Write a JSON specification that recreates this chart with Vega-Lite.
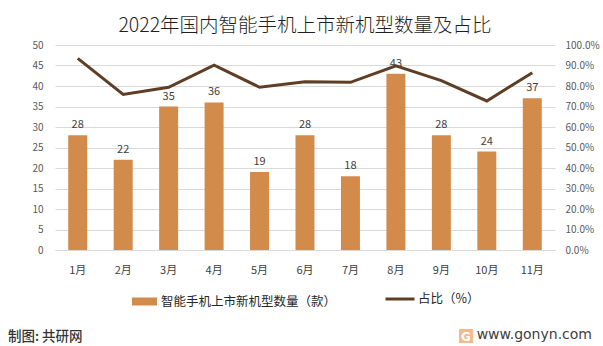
{
  "$schema": "https://vega.github.io/schema/vega-lite/v6.json",
  "width": 500,
  "height": 205,
  "autosize": "none",
  "padding": {"left": 55, "top": 45, "right": 48, "bottom": 96},
  "background": "white",
  "config": {
    "view": {"stroke": null},
    "font": "Noto Sans CJK SC",
    "axis": {"labelFont": "Noto Sans CJK SC", "labelColor": "#595959", "labelFontSize": 10},
    "legend": {"labelFont": "Noto Sans CJK SC"}
  },
  "title": {
    "text": "2022年国内智能手机上市新机型数量及占比",
    "font": "Noto Sans CJK SC",
    "fontSize": 19.5,
    "fontWeight": 300,
    "color": "#1F1F1F",
    "anchor": "middle",
    "offset": 4
  },
  "data": {
    "values": [
      {"month": "1月", "count": 28, "share": 0.935},
      {"month": "2月", "count": 22, "share": 0.759},
      {"month": "3月", "count": 35, "share": 0.794},
      {"month": "4月", "count": 36, "share": 0.902},
      {"month": "5月", "count": 19, "share": 0.794},
      {"month": "6月", "count": 28, "share": 0.821},
      {"month": "7月", "count": 18, "share": 0.818},
      {"month": "8月", "count": 43, "share": 0.898},
      {"month": "9月", "count": 28, "share": 0.826},
      {"month": "10月", "count": 24, "share": 0.727},
      {"month": "11月", "count": 37, "share": 0.865}
    ]
  },
  "layer": [
    {
      "mark": {"type": "bar", "size": 19},
      "encoding": {
        "x": {
          "field": "month",
          "type": "ordinal",
          "sort": null,
          "scale": {"paddingInner": 0.58, "paddingOuter": 0.29},
          "axis": {
            "title": null,
            "labelAngle": 0,
            "ticks": false,
            "domainColor": "#D9D9D9",
            "labelPadding": 14,
            "labelColor": "#404040",
            "labelFontSize": 11
          }
        },
        "y": {
          "field": "count",
          "type": "quantitative",
          "scale": {"domain": [0, 50]},
          "axis": {
            "title": null,
            "values": [0, 5, 10, 15, 20, 25, 30, 35, 40, 45, 50],
            "grid": true,
            "gridColor": "#D9D9D9",
            "domain": false,
            "ticks": false,
            "labelPadding": 12
          }
        },
        "color": {
          "datum": "智能手机上市新机型数量（款）",
          "type": "nominal",
          "scale": {"range": ["#D38B4C"]},
          "legend": {
            "title": null,
            "orient": "none",
            "legendX": 77,
            "legendY": 244,
            "symbolType": "M-1,-0.32H1V0.32H-1Z",
            "symbolSize": 625,
            "symbolStrokeWidth": 0,
            "labelFontSize": 12.5,
            "labelColor": "#262626",
            "labelLimit": 400,
            "labelOffset": 4
          }
        }
      }
    },
    {
      "mark": {"type": "text", "baseline": "bottom", "dy": -5, "fontSize": 11, "color": "#404040"},
      "encoding": {
        "x": {"field": "month", "type": "ordinal", "sort": null},
        "y": {"field": "count", "type": "quantitative", "scale": {"domain": [0, 50]}, "axis": null},
        "text": {"field": "count", "type": "quantitative"}
      }
    },
    {
      "mark": {"type": "line", "strokeWidth": 3},
      "encoding": {
        "x": {"field": "month", "type": "ordinal", "sort": null},
        "y": {
          "field": "share",
          "type": "quantitative",
          "scale": {"domain": [0, 1]},
          "axis": {
            "orient": "right",
            "title": null,
            "format": ".1%",
            "values": [0, 0.1, 0.2, 0.3, 0.4, 0.5, 0.6, 0.7, 0.8, 0.9, 1.0],
            "grid": false,
            "domain": false,
            "ticks": false,
            "labelPadding": 10
          }
        },
        "stroke": {
          "datum": "占比（%）",
          "type": "nominal",
          "scale": {"range": ["#5E3F26"]},
          "legend": {
            "title": null,
            "orient": "none",
            "legendX": 329,
            "legendY": 238,
            "symbolType": "stroke",
            "symbolStrokeWidth": 3,
            "symbolSize": 841,
            "labelFontSize": 12.5,
            "labelColor": "#262626",
            "labelOffset": 2
          }
        }
      }
    },
    {
      "data": {"values": [{"sep": "line"}]},
      "mark": {"type": "rule", "color": "#E0E0E0", "strokeWidth": 1, "x": -47, "x2": 537, "y": 275},
      "encoding": {}
    },
    {
      "data": {"values": [{"label": "制图: 共研网"}]},
      "mark": {"type": "text", "align": "left", "baseline": "middle", "x": -47, "y": 292, "fontSize": 13.5, "fontWeight": 500, "color": "#333333", "font": "Noto Sans CJK SC"},
      "encoding": {"text": {"field": "label"}}
    },
    {
      "data": {"values": [{"label": "www.gonyn.com"}]},
      "mark": {"type": "text", "align": "right", "baseline": "middle", "x": 537, "y": 290, "fontSize": 14, "color": "#404040", "font": "DejaVu Sans"},
      "encoding": {"text": {"field": "label"}}
    },
    {
      "data": {"values": [{"label": "logo"}]},
      "mark": {"type": "square", "filled": true, "size": 196, "x": 411, "y": 291, "color": "#F39A5A", "cornerRadius": 2},
      "encoding": {}
    },
    {
      "data": {"values": [{"label": "G"}]},
      "mark": {"type": "text", "align": "center", "baseline": "middle", "x": 411, "y": 291.5, "fontSize": 12, "fontWeight": "bold", "color": "white", "font": "DejaVu Sans"},
      "encoding": {"text": {"field": "label"}}
    }
  ],
  "resolve": {"scale": {"y": "independent", "color": "independent", "stroke": "independent"}}
}
